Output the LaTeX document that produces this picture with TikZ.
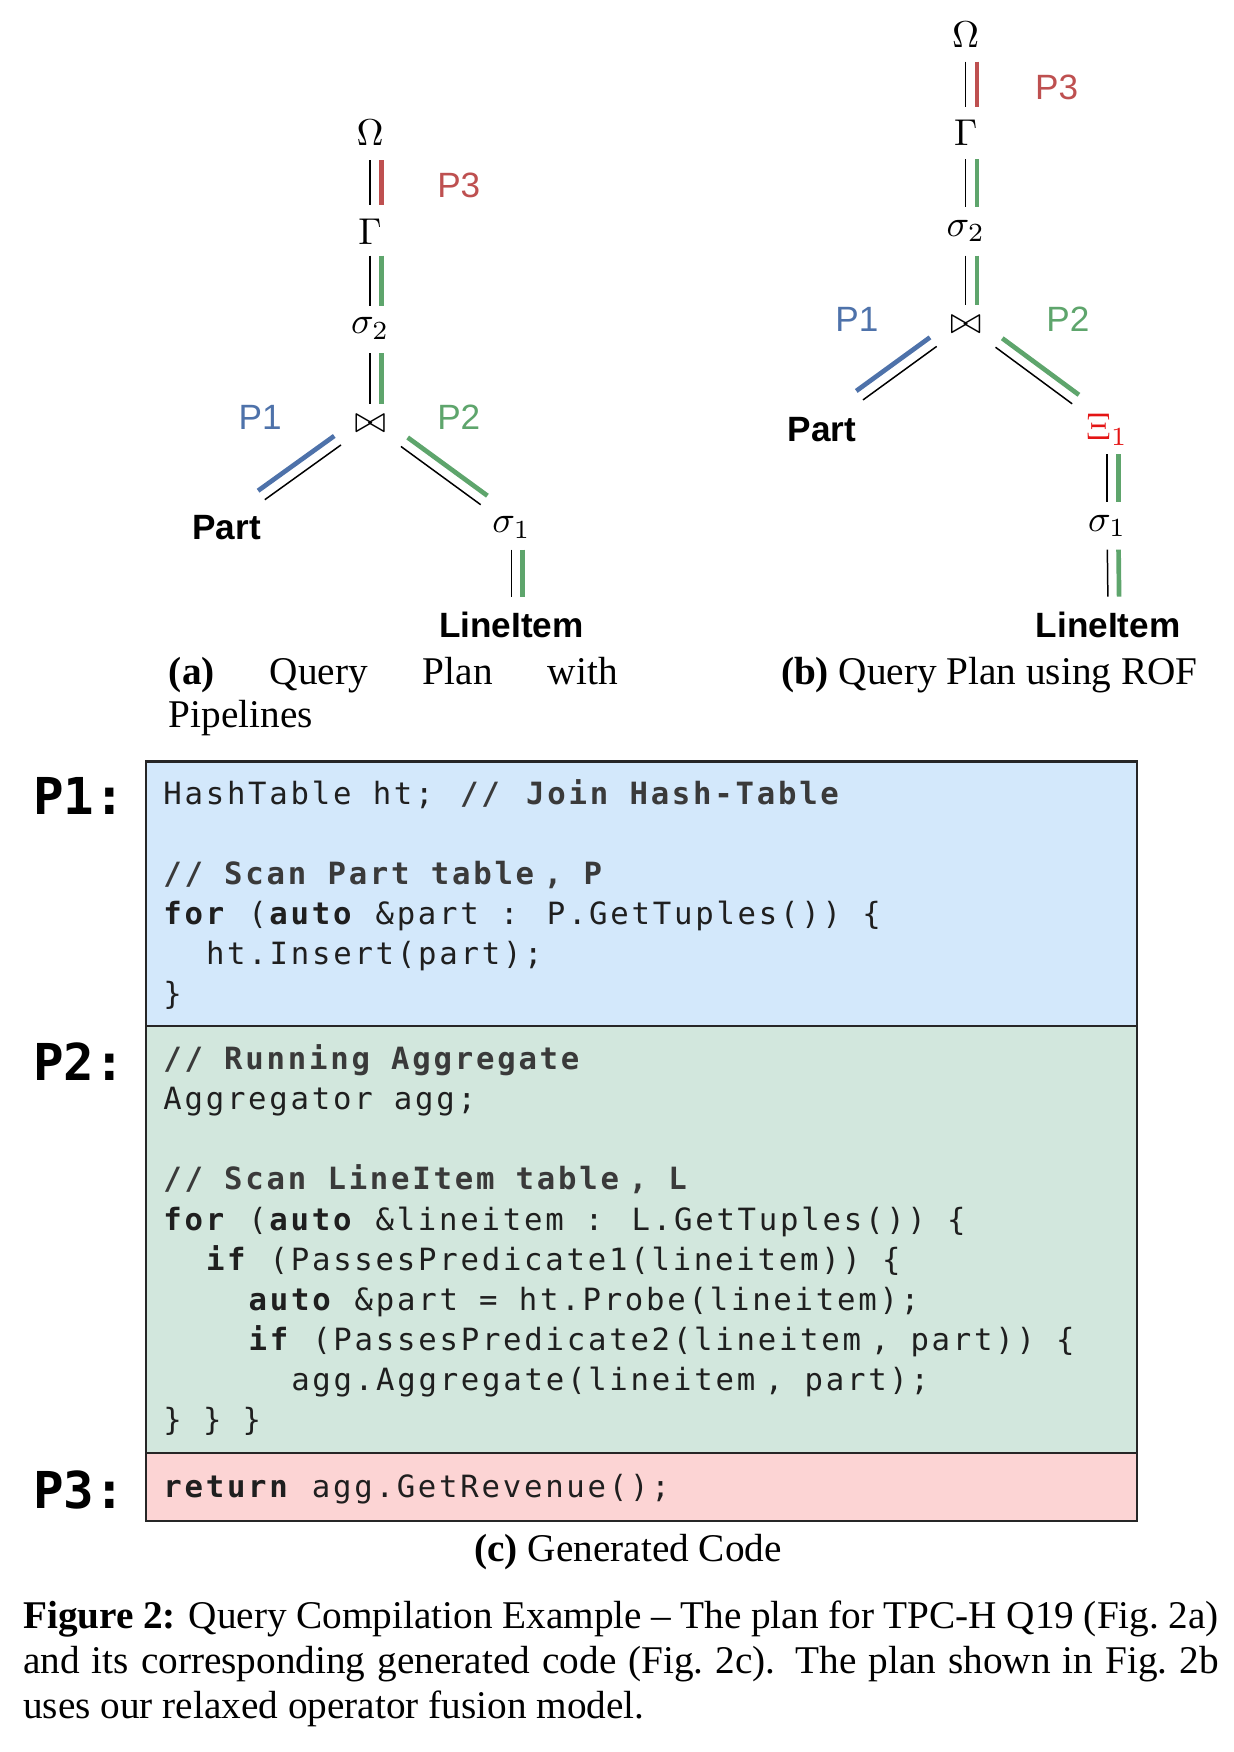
\documentclass[tikz,border=0pt]{standalone}
\usepackage{fontspec}
\setmainfont{Liberation Serif}
\newfontfamily\treefont{Liberation Sans}
\newfontfamily\codefont{DejaVu Sans Mono}[LetterSpace=9]
\newfontfamily\plabelfont{DejaVu Sans Mono}
\usetikzlibrary{positioning}

\definecolor{pipeblue}{RGB}{78,114,170}
\definecolor{pipegreen}{RGB}{94,165,108}
\definecolor{pipered}{RGB}{190,80,80}
\definecolor{xired}{RGB}{228,20,20}
\definecolor{fillblue}{RGB}{211,232,251}
\definecolor{fillgreen}{RGB}{210,231,221}
\definecolor{fillred}{RGB}{252,212,212}
\definecolor{commentgray}{RGB}{58,58,58}

% code font with every space as wide as one column
\newcommand{\codesetup}{\codefont\fontsize{8.2}{10}\selectfont\spaceskip 5.674pt\relax}

\tikzset{
  op/.style={inner sep=0pt, font=\fontsize{10}{12}\selectfont},
  rel/.style={inner sep=0pt, font=\treefont\bfseries\fontsize{9.4}{11}\selectfont},
  pipe/.style={inner sep=0pt, font=\treefont\fontsize{9.4}{11}\selectfont},
  thinedge/.style={line width=0.4pt, black},
  thickedge/.style={line width=1.25pt},
  codebox/.style={draw=black!85, line width=0.6pt, anchor=north west,
    minimum width=265.2pt, inner sep=0pt, outer sep=0pt},
  codeline/.style={anchor=base west, inner sep=0pt, text=black!88, font=\codesetup},
  plabel/.style={anchor=base west, inner sep=0pt,
    font=\plabelfont\bfseries\fontsize{13.6}{15}\selectfont},
  subcap/.style={inner sep=0pt, font=\fontsize{10.5}{11.7}\selectfont},
}

% thin black line plus the coloured pipeline line beside it
\newcommand{\pipeedge}[5]{%
  \draw[thinedge, #5] (#1.center) -- (#2.center);
  \draw[thickedge, #3, #5, transform canvas={#4}] (#1.center) -- (#2.center);
}
\newcommand{\kw}[1]{\textbf{#1}}
\newcommand{\cmt}[1]{{\bfseries\color{commentgray}#1}}
% comma with the loose spacing of the listing
\newcommand{\cc}{\kern2.6pt,}

\begin{document}
\begin{tikzpicture}[x=0.3pt, y=-0.3pt]
  \useasboundingbox (0,0) rectangle (1100,1562);

  % Plan (a)
  \node[op] (a-omega) at (330,118) {$\Omega$};
  \node[op] (a-gamma) at (330,207) {$\Gamma$};
  \node[op] (a-sigma2) at (330,293) {$\sigma_2$};
  \node[op] (a-join) at (330,378) {$\bowtie$};
  \node[rel] (a-part) at (202,470) {Part};
  \node[op] (a-sigma1) at (456,470) {$\sigma_1$};
  \node[rel] (a-lineitem) at (456,557) {LineItem};

  \node[pipe, text=pipered] (a-p3) at (409,165) {P3};
  \node[pipe, text=pipeblue] (a-p1) at (232,372) {P1};
  \node[pipe, text=pipegreen] (a-p2) at (409,372) {P2};

  \pipeedge{a-omega}{a-gamma}{pipered}{xshift=3pt}{shorten <=7.5pt, shorten >=7.2pt}
  \pipeedge{a-gamma}{a-sigma2}{pipegreen}{xshift=3pt}{shorten <=6.3pt, shorten >=6pt}
  \pipeedge{a-sigma2}{a-join}{pipegreen}{xshift=3pt}{shorten <=6.6pt, shorten >=5.4pt}
  \pipeedge{a-part}{a-join}{pipeblue}{xshift=-1.8pt, yshift=2.4pt}{shorten <=12.6pt, shorten >=9.6pt}
  \pipeedge{a-join}{a-sigma1}{pipegreen}{xshift=1.8pt, yshift=2.4pt}{shorten <=10.2pt, shorten >=10.2pt}
  \pipeedge{a-sigma1}{a-lineitem}{pipegreen}{xshift=3pt}{shorten <=6pt, shorten >=7.5pt}

  \node[subcap, anchor=north west, text width=120pt, align=justify] (a-cap) at (150,585)
    {\textbf{(a)} Query Plan with Pipelines};

  % Plan (b)
  \node[op] (b-omega) at (861,31) {$\Omega$};
  \node[op] (b-gamma) at (861,118) {$\Gamma$};
  \node[op] (b-sigma2) at (861,206) {$\sigma_2$};
  \node[op] (b-join) at (861,290) {$\bowtie$};
  \node[rel] (b-part) at (733,383) {Part};
  \node[op, text=xired] (b-xi) at (987,383) {$\Xi_1$};
  \node[op] (b-sigma1) at (987,469) {$\sigma_1$};
  \node[rel] (b-lineitem) at (988,557) {LineItem};

  \node[pipe, text=pipered] (b-p3) at (942,78) {P3};
  \node[pipe, text=pipeblue] (b-p1) at (764,285) {P1};
  \node[pipe, text=pipegreen] (b-p2) at (952,285) {P2};

  \pipeedge{b-omega}{b-gamma}{pipered}{xshift=3pt}{shorten <=7.2pt, shorten >=6.9pt}
  \pipeedge{b-gamma}{b-sigma2}{pipegreen}{xshift=3pt}{shorten <=7.2pt, shorten >=6.3pt}
  \pipeedge{b-sigma2}{b-join}{pipegreen}{xshift=3pt}{shorten <=6.6pt, shorten >=5.4pt}
  \pipeedge{b-part}{b-join}{pipeblue}{xshift=-1.8pt, yshift=2.4pt}{shorten <=13.5pt, shorten >=9.6pt}
  \pipeedge{b-join}{b-xi}{pipegreen}{xshift=1.8pt, yshift=2.4pt}{shorten <=9.9pt, shorten >=11.6pt}
  \pipeedge{b-xi}{b-sigma1}{pipegreen}{xshift=3pt}{shorten <=6.6pt, shorten >=6.3pt}
  \pipeedge{b-sigma1}{b-lineitem}{pipegreen}{xshift=3pt}{shorten <=6.3pt, shorten >=7.5pt}

  \node[subcap] (b-cap) at (882,602) {\textbf{(b)} Query Plan using ROF};

  % Generated code (c)
  \node[codebox, fill=fillblue, minimum height=70.8pt] (box1) at (130,679) {};
  \node[codebox, fill=fillgreen, minimum height=114.2pt] (box2) at (130,915) {};
  \node[codebox, fill=fillred, minimum height=18.1pt] (box3) at (130,1295.6) {};

  \node[plabel] (p1-label) at (29,726) {P1:};
  \node[plabel] (p2-label) at (29,963) {P2:};
  \node[plabel] (p3-label) at (29,1345) {P3:};

  \node[codeline] at (145,717.5) {HashTable ht;\kern1.4pt{} \cmt{//\kern1.4pt{} Join Hash-Table}};
  \node[codeline] at (145,788.5) {\cmt{// Scan Part table\cc{} P}};
  \node[codeline] at (145,824) {\kw{for} (\kw{auto} \&part : P.GetTuples()) \{};
  \node[codeline] at (183,860) {ht.Insert(part);};
  \node[codeline] at (145,895.5) {\}};

  \node[codeline] at (145,953.5) {\cmt{// Running Aggregate}};
  \node[codeline] at (145,989.3) {Aggregator agg;};
  \node[codeline] at (145,1060.9) {\cmt{// Scan LineItem table\cc{} L}};
  \node[codeline] at (145,1096.7) {\kw{for} (\kw{auto} \&lineitem : L.GetTuples()) \{};
  \node[codeline] at (183,1132.5) {\kw{if} (PassesPredicate1(lineitem)) \{};
  \node[codeline] at (221,1168.3) {\kw{auto} \&part = ht.Probe(lineitem);};
  \node[codeline] at (221,1204.1) {\kw{if} (PassesPredicate2(lineitem\cc{} part)) \{};
  \node[codeline] at (259,1239.9) {agg.Aggregate(lineitem\cc{} part);};
  \node[codeline] at (145,1275.7) {\} \} \}};

  \node[codeline] at (145,1335) {\kw{return} agg.GetRevenue();};

  \node[subcap] (c-cap) at (560,1384) {\textbf{(c)} Generated Code};

  % Figure caption
  \node[subcap, anchor=north west, text width=319.8pt, align=justify,
    font=\fontsize{10.5}{12}\selectfont] (fig-cap) at (20,1427)
    {\textbf{Figure 2:} Query Compilation Example -- The plan for TPC-H Q19 (Fig.~2a)\linebreak
     and its corresponding generated code (Fig.~2c). The plan shown in Fig.~2b\linebreak
     uses our relaxed operator fusion model.};
\end{tikzpicture}
\end{document}
